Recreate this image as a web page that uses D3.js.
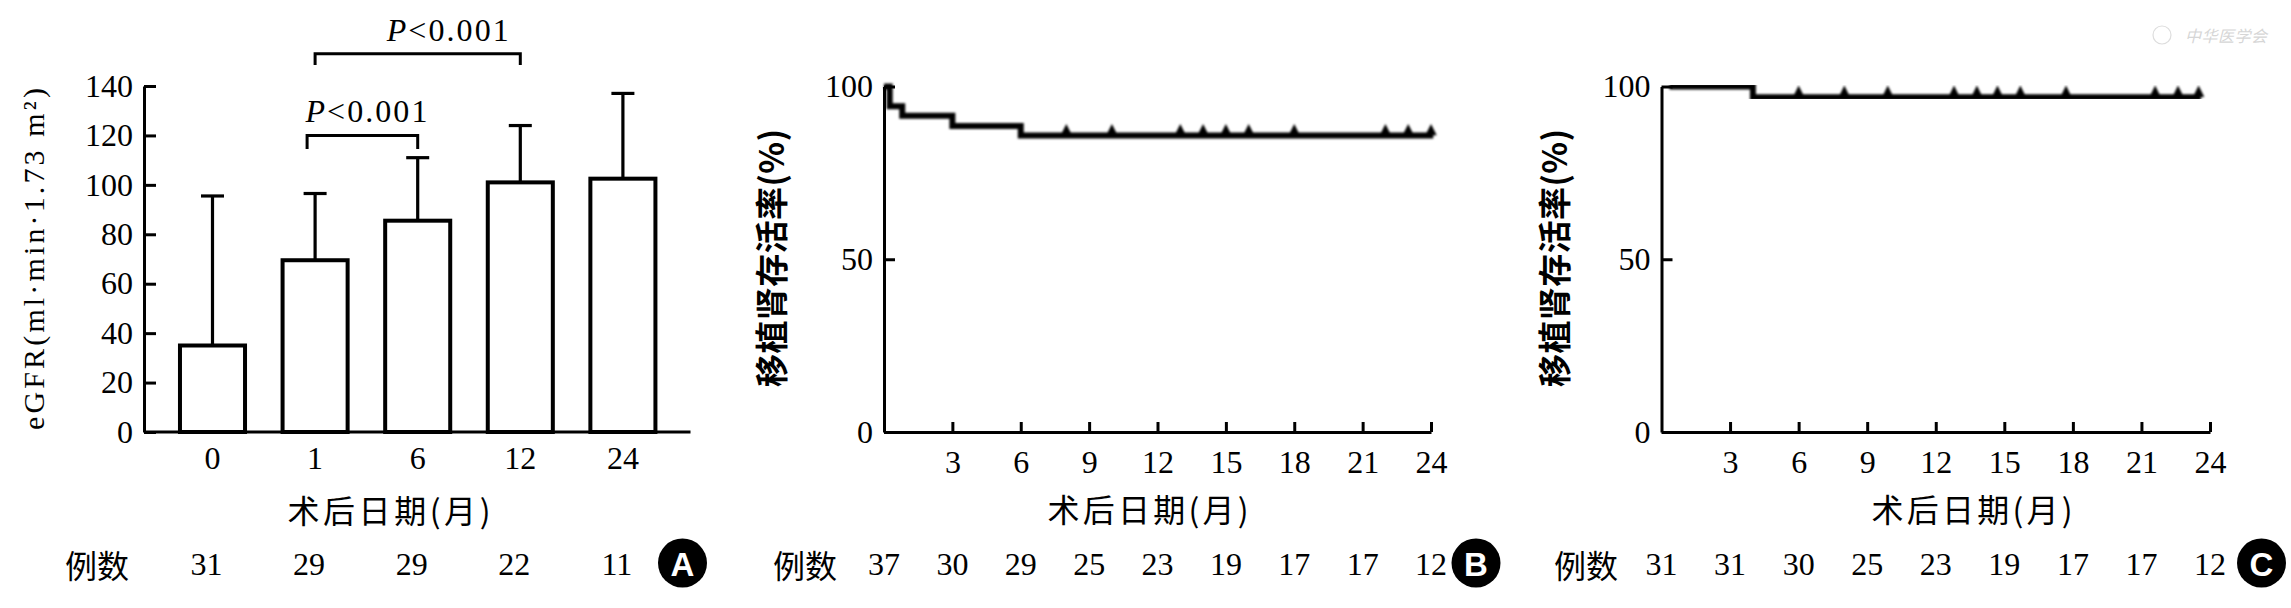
<!DOCTYPE html>
<html>
<head>
<meta charset="utf-8">
<script src="https://cdn.jsdelivr.net/npm/d3@7"></script>
<style>
  html, body { margin: 0; padding: 0; background: #fff; }
  svg { display: block; }
</style>
</head>
<body>
<svg width="2291" height="608"></svg>
<script>
// ---- data ----
var months = ["0", "1", "6", "12", "24"];
var egfrMean = [35, 69.5, 85.5, 101, 102.5];
var egfrSD = [60.5, 27, 25.5, 23, 34.5];
var countsA = [31, 29, 29, 22, 11];
var yTicksA = [0, 20, 40, 60, 80, 100, 120, 140];

var kmTicks = [3, 6, 9, 12, 15, 18, 21, 24];
var kmYTicks = [0, 50, 100];
var countMonths = [0, 3, 6, 9, 12, 15, 18, 21, 24];
var countsB = [37, 30, 29, 25, 23, 19, 17, 17, 12];
var countsC = [31, 31, 30, 25, 23, 19, 17, 17, 12];

// 生存曲线 (月, %)
var survB = [[0, 100], [0.25, 94.3], [0.8, 91.5], [3, 88.6], [6, 85.8], [24.1, 85.8]];
var censorB = [8, 10, 13, 14, 15, 16, 18, 22, 23, 24];
var survC = [[0.35, 100], [4, 96.9], [23.6, 96.9]];
var censorC = [6, 8, 9.9, 12.8, 13.8, 14.7, 15.7, 17.7, 21.6, 22.6, 23.5];

var brackets = [
  { from: "1", to: "6", top: 120, leg: 114.5, text: "<0.001", shift: -8 },
  { from: "1", to: "12", top: 153, leg: 148.5, text: "<0.001", shift: 0 }
];

var SERIF = "'Liberation Serif', 'DejaVu Serif', serif";
var HEI = "'Noto Sans CJK SC', 'Noto Sans CJK JP', sans-serif";

var svg = d3.select("svg");
svg.append("rect").attr("width", 2291).attr("height", 608).attr("fill", "#fff");

var defs = svg.append("defs");
defs.append("filter").attr("id", "soft")
  .append("feGaussianBlur").attr("stdDeviation", 0.9);

function styleAxis(g, w) {
  g.attr("font-family", SERIF).attr("font-size", 32);
  g.selectAll("path, line").attr("stroke", "#000").attr("stroke-width", w);
  g.selectAll("text").attr("fill", "#000");
}

// ---- 图A ----
var yA = d3.scaleLinear().domain([0, 140]).range([432, 86]);
var xA = d3.scaleBand().domain(months).range([161.2, 674.2])
  .paddingInner(0.366).paddingOuter(0.183);

var gA = svg.append("g");

// 柱
gA.selectAll("rect.bar")
  .data(months)
  .enter()
  .append("rect")
  .attr("class", "bar")
  .attr("x", function(d) { return xA(d); })
  .attr("width", xA.bandwidth())
  .attr("y", function(d, i) { return yA(egfrMean[i]); })
  .attr("height", function(d, i) { return yA(0) - yA(egfrMean[i]); })
  .attr("fill", "#fff")
  .attr("stroke", "#000")
  .attr("stroke-width", 4);

// 误差线
gA.selectAll("line.err")
  .data(months)
  .enter()
  .append("line")
  .attr("x1", function(d) { return xA(d) + xA.bandwidth() / 2; })
  .attr("x2", function(d) { return xA(d) + xA.bandwidth() / 2; })
  .attr("y1", function(d, i) { return yA(egfrMean[i]); })
  .attr("y2", function(d, i) { return yA(egfrMean[i] + egfrSD[i]); })
  .attr("stroke", "#000").attr("stroke-width", 3.2);
gA.selectAll("line.cap")
  .data(months)
  .enter()
  .append("line")
  .attr("x1", function(d) { return xA(d) + xA.bandwidth() / 2 - 11.5; })
  .attr("x2", function(d) { return xA(d) + xA.bandwidth() / 2 + 11.5; })
  .attr("y1", function(d, i) { return yA(egfrMean[i] + egfrSD[i]); })
  .attr("y2", function(d, i) { return yA(egfrMean[i] + egfrSD[i]); })
  .attr("stroke", "#000").attr("stroke-width", 3.2);

// 坐标轴
var axA = gA.append("g").attr("transform", "translate(144,0)")
  .call(d3.axisLeft(yA).tickValues(yTicksA).tickSizeInner(-12).tickSizeOuter(0).tickPadding(11));
styleAxis(axA, 3);

gA.append("line")
  .attr("x1", 144).attr("x2", 690.5)
  .attr("y1", yA(0)).attr("y2", yA(0))
  .attr("stroke", "#000").attr("stroke-width", 3);

var axAx = gA.append("g").attr("transform", "translate(0," + yA(0) + ")")
  .call(d3.axisBottom(xA).tickSize(0).tickPadding(14));
axAx.select(".domain").remove();
styleAxis(axAx, 3);

gA.append("text")
  .attr("transform", "translate(33,259) rotate(-90)")
  .attr("text-anchor", "middle")
  .attr("dominant-baseline", "central")
  .attr("font-family", SERIF)
  .attr("font-size", 30)
  .attr("textLength", 342)
  .attr("lengthAdjust", "spacing")
  .text("eGFR(ml·min·1.73 m²)");

// 显著性标记
brackets.forEach(function(b) {
  var x1 = xA(b.from) + xA.bandwidth() / 2 + b.shift;
  var x2 = xA(b.to) + xA.bandwidth() / 2;
  gA.append("path")
    .attr("d", "M" + x1 + "," + yA(b.leg) + "V" + yA(b.top) + "H" + x2 + "V" + yA(b.leg))
    .attr("fill", "none").attr("stroke", "#000").attr("stroke-width", 3);
  var t = gA.append("text")
    .attr("x", (x1 + x2) / 2 + (b.shift ? 4 : 30))
    .attr("y", yA(b.top) - 13)
    .attr("text-anchor", "middle")
    .attr("font-family", SERIF)
    .attr("font-size", 32)
    .attr("textLength", 122)
    .attr("lengthAdjust", "spacing");
  t.append("tspan").attr("font-style", "italic").text("P");
  t.append("tspan").text(b.text);
});

// ---- 生存曲线 B / C ----
function kmPanel(opt) {
  var g = svg.append("g");
  var x = d3.scaleLinear().domain([0, 24]).range([opt.x0, opt.x1]);
  var y = d3.scaleLinear().domain([0, 100]).range([432, 86.5]);

  var ay = g.append("g").attr("transform", "translate(" + opt.x0 + ",0)")
    .call(d3.axisLeft(y).tickValues(kmYTicks).tickSizeInner(-11).tickSizeOuter(0).tickPadding(11));
  styleAxis(ay, 3);

  var ax = g.append("g").attr("transform", "translate(0,432)")
    .call(d3.axisBottom(x).tickValues(kmTicks).tickSizeInner(-10).tickSizeOuter(0).tickPadding(18));
  styleAxis(ax, 3);

  var line = d3.line()
    .x(function(d) { return x(d[0]); })
    .y(function(d) { return y(d[1]); })
    .curve(d3.curveStepAfter);

  var curve = g.append("g").attr("filter", "url(#soft)");
  curve.append("path")
    .attr("d", line(opt.surv))
    .attr("fill", "none")
    .attr("stroke", "#000")
    .attr("stroke-width", 6);

  function survAt(t) {
    var s = opt.surv[0][1];
    opt.surv.forEach(function(p) { if (p[0] <= t) s = p[1]; });
    return s;
  }
  curve.selectAll("path.cen")
    .data(opt.censor)
    .enter()
    .append("path")
    .attr("d", function(t) {
      var cx = x(t), cy = y(survAt(t));
      return "M" + (cx - 4.5) + "," + (cy - 1) + "L" + cx + "," + (cy - 10) + "L" + (cx + 4.5) + "," + (cy - 1) + "Z";
    })
    .attr("fill", "#000")
    .attr("stroke", "#000")
    .attr("stroke-width", 1.5);

  g.append("text")
    .attr("transform", "translate(" + opt.ylabX + ",258) rotate(-90)")
    .attr("text-anchor", "middle")
    .attr("dominant-baseline", "central")
    .attr("font-family", HEI)
    .attr("font-weight", 700)
    .attr("font-size", 33)
    .attr("textLength", 258)
    .attr("lengthAdjust", "spacing")
    .text("移植肾存活率(%)");

  g.append("text")
    .attr("x", opt.titleX).attr("y", 508)
    .attr("text-anchor", "middle")
    .attr("dominant-baseline", "central")
    .attr("font-family", HEI)
    .attr("font-size", 32)
    .attr("textLength", 201)
    .attr("lengthAdjust", "spacing")
    .text("术后日期(月)");

  g.append("text")
    .attr("x", opt.nX).attr("y", 564)
    .attr("text-anchor", "middle")
    .attr("dominant-baseline", "central")
    .attr("font-family", HEI)
    .attr("font-size", 32)
    .text("例数");

  g.selectAll("text.n")
    .data(opt.counts)
    .enter()
    .append("text")
    .attr("x", function(d, i) { return x(countMonths[i]); })
    .attr("y", 575)
    .attr("text-anchor", "middle")
    .attr("font-family", SERIF)
    .attr("font-size", 32)
    .text(function(d) { return d; });

  return g;
}

kmPanel({ x0: 884, x1: 1431, surv: survB, censor: censorB, counts: countsB,
  ylabX: 770, titleX: 1148, nX: 805 });
kmPanel({ x0: 1661.5, x1: 2210, surv: survC, censor: censorC, counts: countsC,
  ylabX: 1553, titleX: 1972, nX: 1586 });

// 图A 下方文字
gA.append("text")
  .attr("x", 389).attr("y", 509)
  .attr("text-anchor", "middle")
  .attr("dominant-baseline", "central")
  .attr("font-family", HEI)
  .attr("font-size", 32)
  .attr("textLength", 203)
  .attr("lengthAdjust", "spacing")
  .text("术后日期(月)");

gA.append("text")
  .attr("x", 97).attr("y", 564)
  .attr("text-anchor", "middle")
  .attr("dominant-baseline", "central")
  .attr("font-family", HEI)
  .attr("font-size", 32)
  .text("例数");

gA.selectAll("text.n")
  .data(countsA)
  .enter()
  .append("text")
  .attr("x", function(d, i) { return xA(months[i]) + xA.bandwidth() / 2 - 6; })
  .attr("y", 575)
  .attr("text-anchor", "middle")
  .attr("font-family", SERIF)
  .attr("font-size", 32)
  .text(function(d) { return d; });

// 分图标识
var tags = [["A", 682.5], ["B", 1476], ["C", 2261.5]];
tags.forEach(function(t) {
  svg.append("circle").attr("cx", t[1]).attr("cy", 563).attr("r", 24.5).attr("fill", "#000");
  svg.append("text")
    .attr("x", t[1]).attr("y", 564)
    .attr("text-anchor", "middle")
    .attr("dominant-baseline", "central")
    .attr("font-family", "'Liberation Sans', Arial, sans-serif")
    .attr("font-weight", 700)
    .attr("font-size", 33)
    .attr("fill", "#fff")
    .text(t[0]);
});

// 水印
svg.append("circle").attr("cx", 2162).attr("cy", 35).attr("r", 9)
  .attr("fill", "none").attr("stroke", "#ddd").attr("stroke-width", 1.2);
svg.append("text")
  .attr("x", 2185).attr("y", 35)
  .attr("dominant-baseline", "central")
  .attr("font-family", HEI)
  .attr("font-size", 16)
  .attr("font-style", "italic")
  .attr("fill", "#d6d6d6")
  .attr("textLength", 82)
  .attr("lengthAdjust", "spacing")
  .text("中华医学会");
</script>
</body>
</html>
